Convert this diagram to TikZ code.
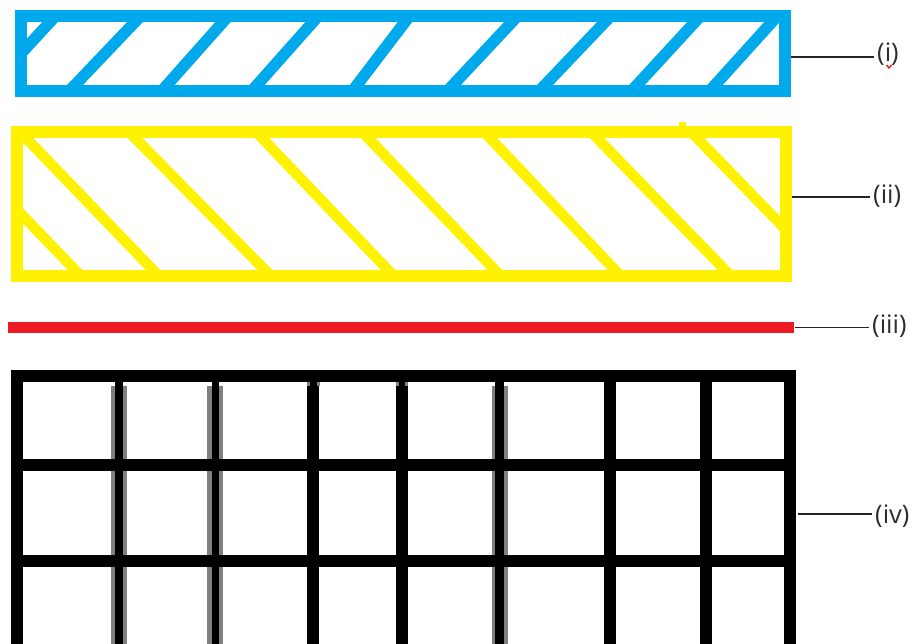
\documentclass[tikz,border=0pt]{standalone}
\usepackage{fontspec}
\setmainfont{Open Sans}
\definecolor{pblue}{RGB}{0,168,236}
\definecolor{pyellow}{RGB}{255,242,0}
\definecolor{pred}{RGB}{237,28,36}
\definecolor{lblgray}{RGB}{45,45,45}
\definecolor{shadegray}{RGB}{128,128,128}
\tikzset{
  lbl/.style={anchor=west, inner sep=0pt, text=lblgray, font=\fontsize{25.5}{30}\selectfont},
  leader/.style={draw=lblgray!80!black, line width=1.8pt, shorten >=3pt},
  bluehatch/.style={draw=pblue, line width=11.5pt},
  yellowhatch/.style={draw=pyellow, line width=10.5pt},
  gridbar/.style={draw=black, line width=12pt},
}
\begin{document}
\begin{tikzpicture}[x=1pt,y=-1pt]
\useasboundingbox (0,0) rectangle (916,644);
\clip (0,0) rectangle (916,644);

% (i) blue hatched strip
\begin{scope}
  \clip (21,16) rectangle (785,91.5);
  \foreach \b/\t in {-8/50, 75/135, 167/223, 257/313, 357/405, 453/512, 545/605, 637/695, 715/772}
    \draw[bluehatch] ({\b-13*(\t-\b)/63},98) -- ({\t+12*(\t-\b)/63},10);
\end{scope}
\draw[pblue, line width=12pt] (21,16) rectangle (785,91.5);

% (ii) yellow hatched strip
\begin{scope}
  \clip (17,132.5) rectangle (786,276);
  \foreach \t/\b in {-52/75, 26/153, 135/265, 262/388, 368/495, 490/615, 597/725, 697/825}
    \draw[yellowhatch] ({\t-12*(\b-\t)/132},126) -- ({\b+12*(\b-\t)/132},282);
\end{scope}
\draw[pyellow, line width=12pt] (17,132.5) rectangle (786,276);
\fill[pyellow] (679,122) rectangle (686,127);

% (iii) red line
\draw[pred, line width=11pt] (8,327.5) -- (794,327.5);

% (iv) black grid
\foreach \xa/\xb in {111/127, 207/223, 491.5/507.5}
  \fill[shadegray] (\xa,386) rectangle (\xb,644);
\foreach \xa/\xb in {115/123, 211.5/219, 495/503.5}
  \fill[black] (\xa,376) rectangle (\xb,644);
\foreach \x in {313,401.5,610,706}
  \draw[gridbar] (\x,376) -- (\x,644);
\draw[gridbar] (17,464.5) -- (790,464.5);
\draw[gridbar] (17,560.5) -- (790,560.5);
\draw[gridbar] (17,376) rectangle (790,652);
\foreach \xa in {307,317,395.5,404.5}
  \fill[shadegray] (\xa,382) rectangle ({\xa+3},386);

% labels and leaders
\coordinate (a1) at (791,57);
\coordinate (a2) at (792,197);
\coordinate (a3) at (795,327.5);
\coordinate (a4) at (798,514);
\node[lbl] (l1) at (877,54.5) {(i)};
\node[lbl] (l2) at (873,196) {(ii)};
\node[lbl] (l3) at (872,326) {(iii)};
\node[lbl] (l4) at (875,516.5) {(iv)};
\draw[leader] (a1) -- (a1 -| l1.west);
\draw[leader] (a2) -- (a2 -| l2.west);
\draw[leader] (a3) -- (a3 -| l3.west);
\draw[leader] (a4) -- (a4 -| l4.west);
\draw[pred, line width=1.5pt, line join=round] (886.5,65) -- (889,68) -- (891.5,65);
\end{tikzpicture}
\end{document}
